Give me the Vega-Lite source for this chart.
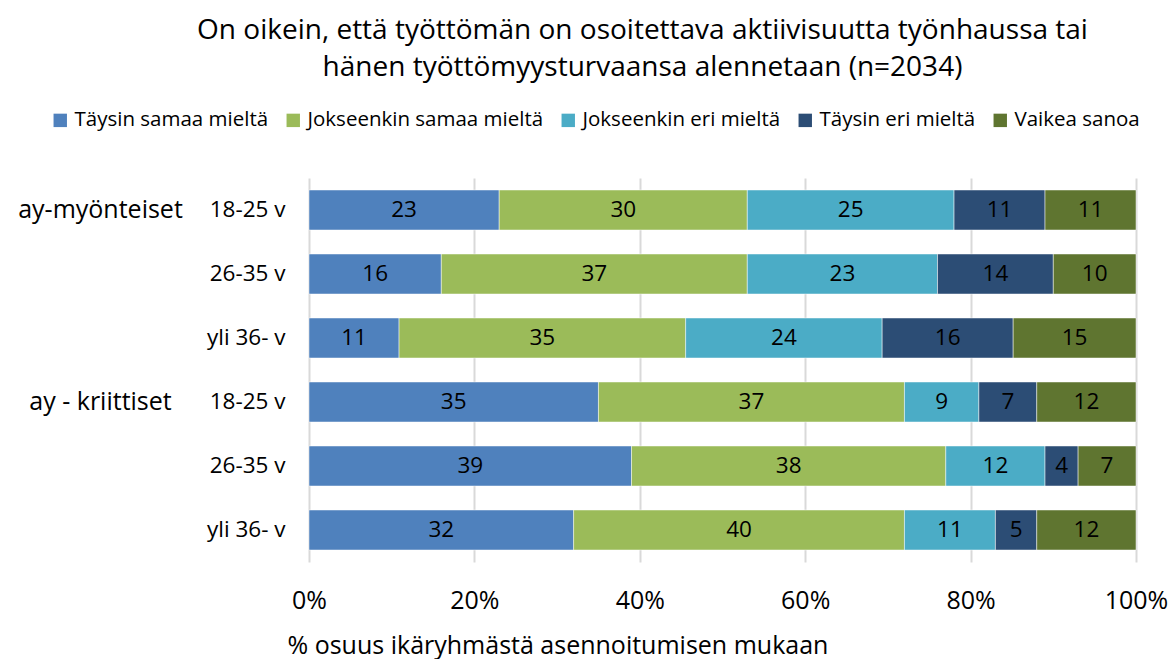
{
  "$schema": "https://vega.github.io/schema/vega-lite/v6.json",
  "width": 827,
  "height": 384,
  "autosize": {"type": "none"},
  "padding": {"left": 309, "top": 178, "right": 36, "bottom": 97},
  "background": "white",
  "config": {
    "font": "Open Sans",
    "view": {"stroke": null},
    "axis": {"labelColor": "#000000", "titleColor": "#000000", "labelFont": "Open Sans", "titleFont": "Open Sans"},
    "legend": {"labelFont": "Open Sans"}
  },
  "title": {
    "text": ["On oikein, että työttömän on osoitettava aktiivisuutta työnhaussa tai", "hänen työttömyysturvaansa alennetaan (n=2034)"],
    "anchor": "middle",
    "frame": "group",
    "dx": -80,
    "fontSize": 28,
    "fontWeight": "normal",
    "color": "#000000",
    "font": "Open Sans",
    "lineHeight": 37,
    "offset": 28
  },
  "data": {
    "values": [
      {"rivi": "ay-myönteiset|18-25 v", "vastaus": "Täysin samaa mieltä", "j": 1, "osuus": 23},
      {"rivi": "ay-myönteiset|18-25 v", "vastaus": "Jokseenkin samaa mieltä", "j": 2, "osuus": 30},
      {"rivi": "ay-myönteiset|18-25 v", "vastaus": "Jokseenkin eri mieltä", "j": 3, "osuus": 25},
      {"rivi": "ay-myönteiset|18-25 v", "vastaus": "Täysin eri mieltä", "j": 4, "osuus": 11},
      {"rivi": "ay-myönteiset|18-25 v", "vastaus": "Vaikea sanoa", "j": 5, "osuus": 11},
      {"rivi": "ay-myönteiset|26-35 v", "vastaus": "Täysin samaa mieltä", "j": 1, "osuus": 16},
      {"rivi": "ay-myönteiset|26-35 v", "vastaus": "Jokseenkin samaa mieltä", "j": 2, "osuus": 37},
      {"rivi": "ay-myönteiset|26-35 v", "vastaus": "Jokseenkin eri mieltä", "j": 3, "osuus": 23},
      {"rivi": "ay-myönteiset|26-35 v", "vastaus": "Täysin eri mieltä", "j": 4, "osuus": 14},
      {"rivi": "ay-myönteiset|26-35 v", "vastaus": "Vaikea sanoa", "j": 5, "osuus": 10},
      {"rivi": "ay-myönteiset|yli 36- v", "vastaus": "Täysin samaa mieltä", "j": 1, "osuus": 11},
      {"rivi": "ay-myönteiset|yli 36- v", "vastaus": "Jokseenkin samaa mieltä", "j": 2, "osuus": 35},
      {"rivi": "ay-myönteiset|yli 36- v", "vastaus": "Jokseenkin eri mieltä", "j": 3, "osuus": 24},
      {"rivi": "ay-myönteiset|yli 36- v", "vastaus": "Täysin eri mieltä", "j": 4, "osuus": 16},
      {"rivi": "ay-myönteiset|yli 36- v", "vastaus": "Vaikea sanoa", "j": 5, "osuus": 15},
      {"rivi": "ay - kriittiset|18-25 v", "vastaus": "Täysin samaa mieltä", "j": 1, "osuus": 35},
      {"rivi": "ay - kriittiset|18-25 v", "vastaus": "Jokseenkin samaa mieltä", "j": 2, "osuus": 37},
      {"rivi": "ay - kriittiset|18-25 v", "vastaus": "Jokseenkin eri mieltä", "j": 3, "osuus": 9},
      {"rivi": "ay - kriittiset|18-25 v", "vastaus": "Täysin eri mieltä", "j": 4, "osuus": 7},
      {"rivi": "ay - kriittiset|18-25 v", "vastaus": "Vaikea sanoa", "j": 5, "osuus": 12},
      {"rivi": "ay - kriittiset|26-35 v", "vastaus": "Täysin samaa mieltä", "j": 1, "osuus": 39},
      {"rivi": "ay - kriittiset|26-35 v", "vastaus": "Jokseenkin samaa mieltä", "j": 2, "osuus": 38},
      {"rivi": "ay - kriittiset|26-35 v", "vastaus": "Jokseenkin eri mieltä", "j": 3, "osuus": 12},
      {"rivi": "ay - kriittiset|26-35 v", "vastaus": "Täysin eri mieltä", "j": 4, "osuus": 4},
      {"rivi": "ay - kriittiset|26-35 v", "vastaus": "Vaikea sanoa", "j": 5, "osuus": 7},
      {"rivi": "ay - kriittiset|yli 36- v", "vastaus": "Täysin samaa mieltä", "j": 1, "osuus": 32},
      {"rivi": "ay - kriittiset|yli 36- v", "vastaus": "Jokseenkin samaa mieltä", "j": 2, "osuus": 40},
      {"rivi": "ay - kriittiset|yli 36- v", "vastaus": "Jokseenkin eri mieltä", "j": 3, "osuus": 11},
      {"rivi": "ay - kriittiset|yli 36- v", "vastaus": "Täysin eri mieltä", "j": 4, "osuus": 5},
      {"rivi": "ay - kriittiset|yli 36- v", "vastaus": "Vaikea sanoa", "j": 5, "osuus": 12}
    ]
  },
  "transform": [
    {"stack": "osuus", "groupby": ["rivi"], "sort": [{"field": "j", "order": "ascending"}], "offset": "normalize", "as": ["x0", "x1"]},
    {"calculate": "(datum.x0 + datum.x1) / 2", "as": "xm"}
  ],
  "layer": [
    {
      "mark": {"type": "bar", "stroke": "#ffffff", "strokeWidth": 0.8, "strokeOpacity": 0.6},
      "encoding": {
        "y": {
          "field": "rivi", "type": "nominal",
          "sort": ["ay-myönteiset|18-25 v", "ay-myönteiset|26-35 v", "ay-myönteiset|yli 36- v", "ay - kriittiset|18-25 v", "ay - kriittiset|26-35 v", "ay - kriittiset|yli 36- v"],
          "scale": {"paddingInner": 0.375, "paddingOuter": 0.1875},
          "axis": {
            "title": null, "orient": "left", "domain": false, "ticks": false,
            "labelExpr": "split(datum.value, '|')[1]",
            "labelFontSize": 22.5, "labelPadding": 24, "labelAlign": "right"
          }
        },
        "x": {
          "field": "x0", "type": "quantitative",
          "scale": {"domain": [0, 1], "nice": false},
          "axis": {
            "title": "% osuus ikäryhmästä asennoitumisen mukaan",
            "format": "%", "values": [0, 0.2, 0.4, 0.6, 0.8, 1],
            "domain": false, "ticks": false, "labelFlush": false,
            "grid": true, "gridColor": "#D9D9D9", "gridWidth": 2,
            "labelFontSize": 25, "labelPadding": 26,
            "titleFontSize": 25, "titleFontWeight": "normal", "titlePadding": 20,
            "titleAnchor": "start", "titleX": -22
          }
        },
        "x2": {"field": "x1"},
        "color": {
          "field": "vastaus", "type": "nominal",
          "sort": ["Täysin samaa mieltä", "Jokseenkin samaa mieltä", "Jokseenkin eri mieltä", "Täysin eri mieltä", "Vaikea sanoa"],
          "scale": {
            "domain": ["Täysin samaa mieltä", "Jokseenkin samaa mieltä", "Jokseenkin eri mieltä", "Täysin eri mieltä", "Vaikea sanoa"],
            "range": ["#4F81BD", "#9BBB59", "#4BACC6", "#2C4D75", "#5F7530"]
          },
          "legend": {
            "title": null, "orient": "none", "direction": "horizontal",
            "legendX": -259, "legendY": -68,
            "symbolType": "square", "symbolSize": 180, "symbolStrokeWidth": 0,
            "labelFontSize": 20.5, "labelColor": "#000000", "labelOffset": 4,
            "columnPadding": 14, "labelLimit": 400
          }
        }
      }
    },
    {
      "mark": {"type": "text", "fontSize": 22.5, "color": "#000000", "font": "Open Sans"},
      "encoding": {
        "y": {
          "field": "rivi", "type": "nominal",
          "sort": ["ay-myönteiset|18-25 v", "ay-myönteiset|26-35 v", "ay-myönteiset|yli 36- v", "ay - kriittiset|18-25 v", "ay - kriittiset|26-35 v", "ay - kriittiset|yli 36- v"],
          "axis": {
            "title": null, "orient": "left", "domain": false, "ticks": false, "grid": false,
            "labelExpr": "split(datum.value, '|')[1] == '18-25 v' ? split(datum.value, '|')[0] : ''",
            "labelFontSize": 25, "labelPadding": 9, "offset": 200, "labelAlign": "center"
          }
        },
        "x": {"field": "xm", "type": "quantitative"},
        "text": {"field": "osuus", "type": "quantitative"}
      }
    }
  ],
  "resolve": {"axis": {"y": "independent"}}
}
